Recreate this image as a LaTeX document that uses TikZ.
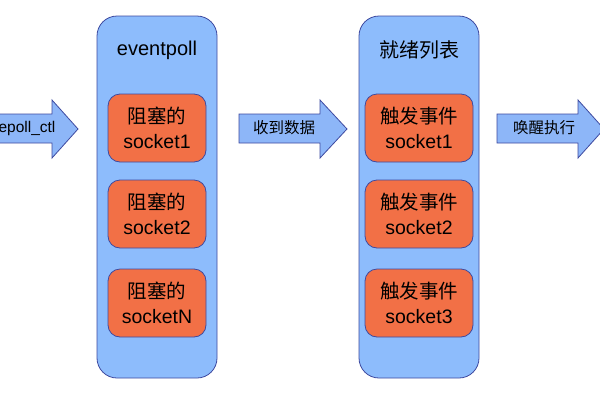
\documentclass[tikz,border=0pt]{standalone}
\usepackage{fontspec}
\setmainfont{Liberation Sans}
\newfontfamily\cjk{Noto Sans CJK SC}
\definecolor{boxblue}{RGB}{141,188,252}
\definecolor{arrowblue}{RGB}{141,182,248}
\definecolor{edgeblue}{RGB}{62,74,160}
\definecolor{sockorange}{RGB}{242,112,70}
\begin{document}
\begin{tikzpicture}[x=1pt,y=-1pt,
  bigbox/.style={draw=edgeblue, fill=boxblue, rounded corners=20pt, line width=0.8pt, minimum width=120pt, minimum height=362pt, inner sep=0pt},
  sockbox/.style={draw=edgeblue, fill=sockorange, rounded corners=12pt, line width=0.8pt, minimum height=68pt, align=center, font=\fontsize{19.5}{25}\selectfont, inner sep=0pt},
  blockarrow/.style={draw=edgeblue, fill=arrowblue, line width=0.8pt, line join=miter},
  arrowlabel/.style={font=\fontsize{15.5}{18}\selectfont, inner sep=0pt},
  boxtitle/.style={font=\fontsize{20}{24}\selectfont, inner sep=0pt}]
\useasboundingbox (0,0) rectangle (600,400);
\fill[white] (0,0) rectangle (600,400);

% left container
\node[bigbox] (ep) at (157,197) {};
\node[boxtitle] (eptitle) at (157,50) {eventpoll};
\node[sockbox, minimum width=98pt] (b1) at (157,128) {{\cjk 阻塞的}\\socket1};
\node[sockbox, minimum width=98pt] (b2) at (157,214) {{\cjk 阻塞的}\\socket2};
\node[sockbox, minimum width=98pt] (b3) at (157,303) {{\cjk 阻塞的}\\socketN};

% right container
\node[bigbox] (rl) at (419,197) {};
\node[boxtitle] (rltitle) at (419,50) {\cjk 就绪列表};
\node[sockbox, minimum width=108pt] (r1) at (419,128) {{\cjk 触发事件}\\socket1};
\node[sockbox, minimum width=108pt] (r2) at (419,214) {{\cjk 触发事件}\\socket2};
\node[sockbox, minimum width=108pt] (r3) at (419,303) {{\cjk 触发事件}\\socket3};

% block arrows
\draw[blockarrow] (-5,114) -- (52,114) -- (52,100) -- (78,129) -- (52,158) -- (52,143) -- (-5,143) -- cycle;
\node[arrowlabel] (a1) at (27,128) {epoll\_ctl};

\draw[blockarrow] (239,114) -- (320,114) -- (320,100) -- (347,129) -- (320,158) -- (320,143) -- (239,143) -- cycle;
\node[arrowlabel] (a2) at (284,128) {\cjk 收到数据};

\draw[blockarrow] (497,114) -- (578,114) -- (578,100) -- (604,129) -- (578,158) -- (578,143) -- (497,143) -- cycle;
\node[arrowlabel] (a3) at (544,128) {\cjk 唤醒执行};
\end{tikzpicture}
\end{document}
